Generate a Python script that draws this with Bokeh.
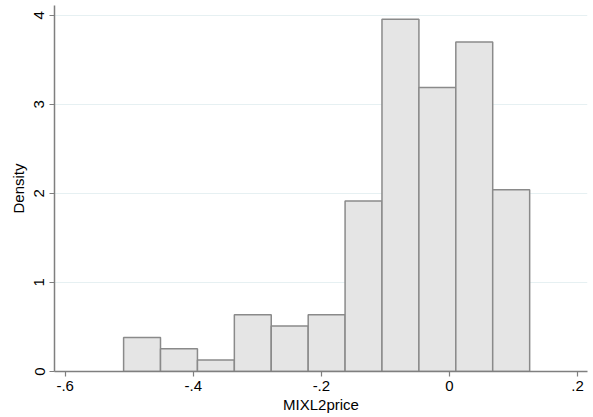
from bokeh.plotting import figure
from bokeh.models import Range1d, FixedTicker
from bokeh.embed import file_html
from bokeh.resources import INLINE

# Histogram data
bin_left = [-0.5088, -0.4512, -0.3935, -0.3359, -0.2783, -0.2206, -0.1630, -0.1054, -0.0477, 0.0099, 0.0675]
bin_right = [-0.4512, -0.3935, -0.3359, -0.2783, -0.2206, -0.1630, -0.1054, -0.0477, 0.0099, 0.0675, 0.1252]
density = [0.383, 0.255, 0.128, 0.638, 0.510, 0.638, 1.914, 3.956, 3.190, 3.700, 2.041]

x_ticks = [-0.6, -0.4, -0.2, 0.0, 0.2]
x_tick_labels = ["-.6", "-.4", "-.2", "0", ".2"]
y_ticks = [0, 1, 2, 3, 4]

FONT = "Liberation Sans"

p = figure(width=593, height=417, output_backend="svg", toolbar_location=None,
           x_range=Range1d(-0.6167, 0.2155), y_range=Range1d(0, 4.11),
           min_border_left=54, min_border_right=6, min_border_top=5, min_border_bottom=46)

p.quad(left=bin_left, right=bin_right, bottom=0, top=density,
       fill_color="#E5E5E5", line_color="#8A8A8A", line_width=1.5)

p.outline_line_color = None
p.background_fill_color = "white"
p.border_fill_color = "white"

p.xgrid.grid_line_color = None
p.ygrid.grid_line_color = "#E6F0F2"
p.ygrid.grid_line_width = 1
p.ygrid.ticker = FixedTicker(ticks=y_ticks)

p.xaxis.ticker = FixedTicker(ticks=x_ticks)
p.xaxis.major_label_overrides = {t: l for t, l in zip(x_ticks, x_tick_labels)}
p.yaxis.ticker = FixedTicker(ticks=y_ticks)
p.yaxis.major_label_orientation = "vertical"

p.xaxis.axis_label = "MIXL2price"
p.yaxis.axis_label = "Density"

for ax in (p.xaxis[0], p.yaxis[0]):
    ax.axis_line_color = "#7F7F7F"
    ax.axis_line_width = 1.5
    ax.major_tick_line_color = "#7F7F7F"
    ax.major_tick_line_width = 1.2
    ax.major_tick_out = 5
    ax.major_tick_in = 0
    ax.minor_tick_line_color = None
    ax.major_label_text_font = FONT
    ax.major_label_text_font_size = "15px"
    ax.major_label_text_color = "black"
    ax.axis_label_text_font = FONT
    ax.axis_label_text_font_size = "15px"
    ax.axis_label_text_font_style = "normal"
    ax.axis_label_text_color = "black"

p.xaxis.major_label_standoff = 4
p.xaxis.axis_label_standoff = 2
p.yaxis.major_label_standoff = 5
p.yaxis.axis_label_standoff = 5

open("out.html", "w").write(file_html(p, INLINE))
